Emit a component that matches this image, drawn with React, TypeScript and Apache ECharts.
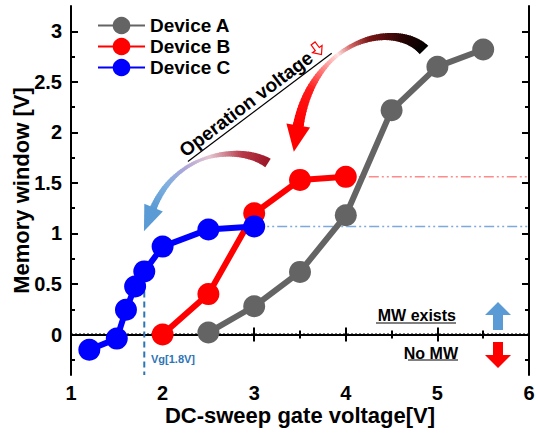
import React, { useEffect, useRef } from "react";
import * as echarts from "echarts";

// Memory window vs. DC-sweep gate voltage for three devices
const deviceA_V = [2.5, 3, 3.5, 4, 4.5, 5, 5.5];
const deviceA_MW = [0.02, 0.28, 0.62, 1.18, 2.22, 2.65, 2.82];
const deviceB_V = [2, 2.5, 3, 3.5, 4];
const deviceB_MW = [0.0, 0.4, 1.2, 1.53, 1.56];
const deviceC_V = [1.2, 1.5, 1.6, 1.7, 1.8, 2, 2.5, 3];
const deviceC_MW = [-0.15, -0.04, 0.245, 0.475, 0.625, 0.87, 1.04, 1.07];
const seriesNames = ["Device A", "Device B", "Device C"];
const seriesColors = ["#646464", "#ff0000", "#0000ff"];

const X_MIN = 1;
const X_MAX = 6;
const Y_MIN = -0.4;
const Y_MAX = 3.25;
const yMajorTicks = [0, 0.5, 1, 1.5, 2, 2.5, 3];
const yMinorTicks = [-0.25, 0.25, 0.75, 1.25, 1.75, 2.25, 2.75];
const vgOperating = 1.8;

const FONT = '"Liberation Sans", Arial, sans-serif';

type Pt = [number, number];

function cubic(p: Pt[], t: number): Pt {
  const u = 1 - t;
  const a = u * u * u, b = 3 * u * u * t, c = 3 * u * t * t, d = t * t * t;
  return [
    a * p[0][0] + b * p[1][0] + c * p[2][0] + d * p[3][0],
    a * p[0][1] + b * p[1][1] + c * p[2][1] + d * p[3][1],
  ];
}

function cubicDir(p: Pt[], t: number): Pt {
  const u = 1 - t;
  const x = 3 * u * u * (p[1][0] - p[0][0]) + 6 * u * t * (p[2][0] - p[1][0]) + 3 * t * t * (p[3][0] - p[2][0]);
  const y = 3 * u * u * (p[1][1] - p[0][1]) + 6 * u * t * (p[2][1] - p[1][1]) + 3 * t * t * (p[3][1] - p[2][1]);
  const l = Math.hypot(x, y) || 1;
  return [x / l, y / l];
}

function interp(stops: [number, number][], t: number): number {
  for (let i = 0; i < stops.length - 1; i++) {
    const [t0, v0] = stops[i];
    const [t1, v1] = stops[i + 1];
    if (t <= t1) return v0 + ((v1 - v0) * (t - t0)) / (t1 - t0 || 1);
  }
  return stops[stops.length - 1][1];
}

function hexRgb(h: string): number[] {
  const n = parseInt(h.slice(1), 16);
  return [(n >> 16) & 255, (n >> 8) & 255, n & 255];
}

function colorAt(stops: [number, string][], t: number): string {
  for (let i = 0; i < stops.length - 1; i++) {
    const [t0, c0] = stops[i];
    const [t1, c1] = stops[i + 1];
    if (t <= t1) {
      const f = (t - t0) / (t1 - t0 || 1);
      const a = hexRgb(c0), b = hexRgb(c1);
      const m = a.map((v, k) => Math.round(v + (b[k] - v) * f));
      return `rgb(${m[0]},${m[1]},${m[2]})`;
    }
  }
  return stops[stops.length - 1][1];
}

// Tapered, colour-graded curved arrow built from thin quads along a cubic curve
function swoosh(
  ctrl: Pt[],
  widths: [number, number][],
  colors: [number, string][],
  headLen: number,
  headHalf: number,
  headColor: string
) {
  const els: any[] = [];
  const N = 72;
  for (let i = 0; i < N; i++) {
    const t0 = i / N;
    const t1 = Math.min(1, (i + 1) / N + 0.006);
    const p0 = cubic(ctrl, t0), p1 = cubic(ctrl, t1);
    const d0 = cubicDir(ctrl, t0), d1 = cubicDir(ctrl, t1);
    const n0: Pt = [-d0[1], d0[0]], n1: Pt = [-d1[1], d1[0]];
    const w0 = interp(widths, t0) / 2, w1 = interp(widths, t1) / 2;
    els.push({
      type: "polygon",
      silent: true,
      z: 50,
      shape: {
        points: [
          [p0[0] + n0[0] * w0, p0[1] + n0[1] * w0],
          [p1[0] + n1[0] * w1, p1[1] + n1[1] * w1],
          [p1[0] - n1[0] * w1, p1[1] - n1[1] * w1],
          [p0[0] - n0[0] * w0, p0[1] - n0[1] * w0],
        ],
      },
      style: { fill: colorAt(colors, (t0 + t1) / 2) },
    });
  }
  const e = cubic(ctrl, 1);
  const d = cubicDir(ctrl, 1);
  const n: Pt = [-d[1], d[0]];
  const b: Pt = [e[0] - d[0] * 1.5, e[1] - d[1] * 1.5];
  els.push({
    type: "polygon",
    silent: true,
    z: 50,
    shape: {
      points: [
        [b[0] + n[0] * headHalf, b[1] + n[1] * headHalf],
        [e[0] + d[0] * headLen, e[1] + d[1] * headLen],
        [b[0] - n[0] * headHalf, b[1] - n[1] * headHalf],
      ],
    },
    style: { fill: headColor },
  });
  return els;
}

function pairs(xs: number[], ys: number[]) {
  return xs.map((x, i) => [x, ys[i]]);
}

export default function App() {
  const ref = useRef<HTMLDivElement>(null);

  useEffect(() => {
    if (!ref.current) return;
    const chart = echarts.init(ref.current, undefined, { renderer: "svg" });

    const axisLine = { show: true, lineStyle: { color: "#000", width: 2 } };
    const majorTick = { show: true, inside: true, length: 7, lineStyle: { color: "#000", width: 2 } };
    const tickLabel = { color: "#000", fontFamily: FONT, fontWeight: "bold" as const, fontSize: 20 };

    const lastB = deviceB_V.length - 1;
    const lastC = deviceC_V.length - 1;
    const vgIdx = deviceC_V.indexOf(vgOperating);

    const refLine = (data: number[][], color: string, type: any, width: number) => ({
      type: "line",
      data,
      symbol: "none",
      silent: true,
      z: 1,
      lineStyle: { color, width, type },
      itemStyle: { color },
    });

    const dataSeries = [
      [deviceA_V, deviceA_MW],
      [deviceB_V, deviceB_MW],
      [deviceC_V, deviceC_MW],
    ].map(([xs, ys], i) => ({
      name: seriesNames[i],
      type: "line",
      data: pairs(xs, ys),
      symbol: "circle",
      symbolSize: 22,
      z: 3 + i,
      lineStyle: { color: seriesColors[i], width: 6 },
      itemStyle: { color: seriesColors[i] },
    }));

    const textAngle = (37 * Math.PI) / 180;

    const option: any = {
      animation: false,
      backgroundColor: "#fff",
      textStyle: { fontFamily: FONT },
      grid: { left: 71, right: 11, top: 6, bottom: 60, containLabel: false, outerBoundsMode: "none" },
      legend: {
        data: seriesNames,
        orient: "vertical",
        left: 97,
        top: 16,
        padding: 0,
        itemWidth: 47,
        itemHeight: 22,
        itemGap: 2,
        textStyle: { color: "#000", fontFamily: FONT, fontWeight: "bold", fontSize: 19 },
      },
      xAxis: [
        {
          type: "value",
          min: X_MIN,
          max: X_MAX,
          interval: 1,
          position: "bottom",
          axisLine,
          axisTick: majorTick,
          minorTick: { show: true, splitNumber: 2, length: 4, lineStyle: { color: "#000", width: 2 } },
          splitLine: { show: false },
          axisLabel: { ...tickLabel, margin: 8 },
          name: "DC-sweep gate voltage[V]",
          nameLocation: "middle",
          nameGap: 29,
          nameMoveOverlap: false,
          nameTextStyle: { color: "#000", fontFamily: FONT, fontWeight: "bold", fontSize: 22 },
        },
        {
          type: "value",
          min: X_MIN,
          max: X_MAX,
          interval: 1,
          position: "top",
          axisLine,
          axisTick: majorTick,
          minorTick: { show: true, splitNumber: 2, length: 4, lineStyle: { color: "#000", width: 2 } },
          splitLine: { show: false },
          axisLabel: { show: false },
        },
      ],
      yAxis: [
        {
          type: "value",
          min: Y_MIN,
          max: Y_MAX,
          position: "left",
          axisLine,
          axisTick: { ...majorTick, customValues: yMajorTicks },
          splitLine: { show: false },
          axisLabel: { ...tickLabel, margin: 9, customValues: yMajorTicks },
          name: "Memory window [V]",
          nameLocation: "middle",
          nameGap: 39,
          nameMoveOverlap: false,
          nameTextStyle: { color: "#000", fontFamily: FONT, fontWeight: "bold", fontSize: 22 },
        },
        {
          type: "value",
          min: Y_MIN,
          max: Y_MAX,
          position: "left",
          axisLine: { show: false },
          axisTick: { show: true, inside: true, length: 4, lineStyle: { color: "#000", width: 2 }, customValues: yMinorTicks },
          splitLine: { show: false },
          axisLabel: { show: false },
        },
        {
          type: "value",
          min: Y_MIN,
          max: Y_MAX,
          position: "right",
          axisLine,
          axisTick: { ...majorTick, customValues: yMajorTicks },
          splitLine: { show: false },
          axisLabel: { show: false },
        },
        {
          type: "value",
          min: Y_MIN,
          max: Y_MAX,
          position: "right",
          axisLine: { show: false },
          axisTick: { show: true, inside: true, length: 4, lineStyle: { color: "#000", width: 2 }, customValues: yMinorTicks },
          splitLine: { show: false },
          axisLabel: { show: false },
        },
      ],
      series: [
        refLine([[X_MIN, 0], [X_MAX, 0]], "#000", [2, 2], 2),
        refLine([[deviceB_V[lastB], deviceB_MW[lastB]], [X_MAX, deviceB_MW[lastB]]], "#ff8a8a", [10, 3, 2, 3, 2, 3], 1.5),
        refLine([[deviceC_V[lastC], deviceC_MW[lastC]], [X_MAX, deviceC_MW[lastC]]], "#7ea9dc", [10, 3, 2, 3, 2, 3], 1.5),
        refLine([[vgOperating, deviceC_MW[vgIdx]], [vgOperating, Y_MIN]], "#2e75b6", [6, 4], 2),
        ...dataSeries,
      ],
      graphic: [
        ...swoosh(
          [[424, 50], [395, 20], [313, 38], [298, 127]],
          [[0, 12], [0.3, 7], [0.55, 4], [0.68, 4], [0.85, 8], [1, 11]],
          [[0, "#000000"], [0.2, "#2a0404"], [0.42, "#7a1616"], [0.54, "#d86a6a"], [0.62, "#ffe4e4"], [0.72, "#ff8a8a"], [0.84, "#ff1a1a"], [1, "#ff0000"]],
          25,
          12,
          "#ff0000"
        ),
        ...swoosh(
          [[268, 163], [240, 145], [177, 150], [153, 209]],
          [[0, 10], [0.3, 6], [0.55, 3], [0.75, 4], [1, 7]],
          [[0, "#9a1426"], [0.25, "#b83a4a"], [0.5, "#e4c6d2"], [0.68, "#b0a6d8"], [0.85, "#7fb0e0"], [1, "#5b9bd5"]],
          24,
          10,
          "#5b9bd5"
        ),
        {
          type: "group",
          x: 246,
          y: 104,
          rotation: textAngle,
          silent: true,
          z: 60,
          children: [
            {
              type: "text",
              x: 0,
              y: 0,
              style: {
                text: "Operation voltage",
                align: "center",
                verticalAlign: "middle",
                font: `bold 19px ${FONT}`,
                fill: "#000",
              },
            },
            { type: "line", shape: { x1: -81, y1: 11, x2: 99, y2: 11 }, style: { stroke: "#000", lineWidth: 1.2 } },
            {
              type: "polygon",
              x: 90,
              y: -1,
              shape: {
                points: [[-2.5, -7], [2.5, -7], [2.5, 0], [6, 0], [0, 7], [-6, 0], [-2.5, 0]],
              },
              style: { fill: "#fff", stroke: "#ff0000", lineWidth: 1.2 },
            },
          ],
        },
        {
          type: "text",
          x: 151,
          y: 359,
          silent: true,
          z: 60,
          style: {
            text: `Vg[${vgOperating}V]`,
            verticalAlign: "middle",
            font: `bold 11px ${FONT}`,
            fill: "#2e75b6",
          },
        },
        {
          type: "text",
          x: 456,
          y: 315,
          silent: true,
          z: 60,
          style: { text: "MW exists", align: "right", verticalAlign: "middle", font: `bold 16px ${FONT}`, fill: "#000" },
        },
        { type: "line", silent: true, z: 60, shape: { x1: 376, y1: 323, x2: 456, y2: 323 }, style: { stroke: "#000", lineWidth: 1.2 } },
        {
          type: "text",
          x: 458,
          y: 353,
          silent: true,
          z: 60,
          style: { text: "No MW", align: "right", verticalAlign: "middle", font: `bold 16px ${FONT}`, fill: "#000" },
        },
        { type: "line", silent: true, z: 60, shape: { x1: 408, y1: 360, x2: 458, y2: 360 }, style: { stroke: "#000", lineWidth: 1.2 } },
        {
          type: "polygon",
          silent: true,
          z: 60,
          shape: { points: [[498, 302], [511, 315], [503, 315], [503, 330], [493, 330], [493, 315], [485, 315]] },
          style: { fill: "#5b9bd5" },
        },
        {
          type: "polygon",
          silent: true,
          z: 60,
          shape: { points: [[493, 342], [503, 342], [503, 355], [511, 355], [498, 368], [485, 355], [493, 355]] },
          style: { fill: "#ff0000" },
        },
      ],
    };

    chart.setOption(option);
    return () => chart.dispose();
  }, []);

  return (
    <div
      ref={ref}
      style={{ position: "fixed", left: 0, top: 0, width: 540, height: 435, background: "#fff" }}
    />
  );
}
